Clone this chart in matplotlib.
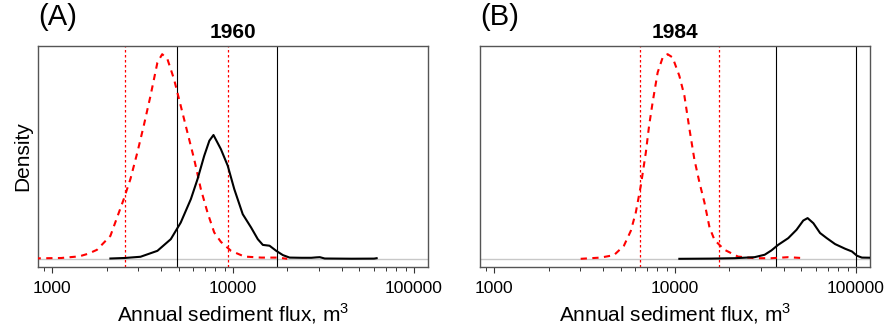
import numpy as np
import matplotlib
matplotlib.use("Agg")
import matplotlib.pyplot as plt

plt.rcParams['font.family'] = ['Liberation Sans', 'DejaVu Sans']
plt.rcParams['mathtext.fontset'] = 'custom'
plt.rcParams['mathtext.rm'] = 'Liberation Sans'

# ---- panel A (1960) ----
red_a_x = [800, 1122, 1413, 1585, 1770, 2100, 2490, 2710, 2960, 3210, 3500,
           3820, 4060, 4340, 4720, 5140, 5600, 6100, 6640, 7230, 7870, 8570,
           9750, 11560, 14320, 17700, 19950]
red_a_y = [0.002, 0.004, 0.012, 0.025, 0.044, 0.112, 0.292, 0.39, 0.52, 0.65,
           0.797, 0.959, 1.0, 0.976, 0.878, 0.748, 0.617, 0.487, 0.341, 0.226,
           0.129, 0.083, 0.039, 0.011, 0.006, 0.006, 0.0]
blk_a_x = [2100, 2510, 3080, 3820, 4530, 5140, 5850, 6370, 6930, 7400, 7800,
           8570, 9350, 10160, 11320, 12590, 13710, 14620, 15920, 17340, 18880,
           20560, 23880, 27100, 28840, 30200, 32140, 45290, 60260, 62230]
blk_a_y = [0.0015, 0.004, 0.01, 0.039, 0.096, 0.177, 0.292, 0.39, 0.503,
           0.577, 0.605, 0.536, 0.455, 0.341, 0.218, 0.153, 0.096, 0.068,
           0.064, 0.039, 0.018, 0.006, 0.005, 0.005, 0.007, 0.008, 0.0015,
           0.0005, 0.001, 0.003]
red_a_vlines = [2535, 9420]
blk_a_vlines = [4933, 17420]

# ---- panel B (1984) ----
red_b_x = [3010, 3880, 4600, 5220, 5700, 6070, 6470, 6900, 7190, 7520, 8020,
           8550, 9100, 9700, 10570, 11270, 12020, 12790, 13650, 14550, 15520,
           16520, 17420, 18790, 22280, 27540, 34120, 42270, 52240]
red_b_y = [0.0, 0.006, 0.018, 0.064, 0.137, 0.226, 0.357, 0.52, 0.65, 0.764,
           0.911, 0.984, 1.0, 0.984, 0.894, 0.797, 0.634, 0.487, 0.373, 0.275,
           0.153, 0.093, 0.072, 0.044, 0.011, 0.003, 0.003, 0.008, 0.003]
blk_b_x = [10570, 15850, 21380, 27540, 31330, 34120, 37150, 42270, 46990,
           51170, 54080, 58210, 63390, 69020, 76740, 87300, 95060, 101400,
           107900, 125900]
blk_b_y = [0.0, 0.001, 0.003, 0.008, 0.02, 0.041, 0.068, 0.101, 0.142, 0.187,
           0.199, 0.174, 0.126, 0.101, 0.072, 0.049, 0.036, 0.015, 0.006, 0.005]
red_b_vlines = [6400, 17420]
blk_b_vlines = [36060, 100400]

panels = [
    ("(A)", "1960", red_a_x, red_a_y, blk_a_x, blk_a_y, red_a_vlines, blk_a_vlines),
    ("(B)", "1984", red_b_x, red_b_y, blk_b_x, blk_b_y, red_b_vlines, blk_b_vlines),
]

fig = plt.figure(figsize=(8.86, 3.35), dpi=100)
lefts = [38 / 886, 480 / 886]

for i, (tag, year, rx, ry, bx, by, rv, bv) in enumerate(panels):
    ax = fig.add_axes([lefts[i], 68 / 335, 390 / 886, 221 / 335])
    ax.set_xscale('log')
    ax.set_xlim(10 ** 2.922, 10 ** 5.078)
    ax.set_ylim(-0.04, 1.04)

    ax.axhline(0, color='#c8c8c8', lw=1.0, zorder=1)
    for v in rv:
        ax.axvline(v, color='red', lw=0.9, ls=(0, (2, 2)), zorder=2)
    for v in bv:
        ax.axvline(v, color='black', lw=0.8, zorder=2)

    ax.plot(rx, ry, color='red', lw=1.5, ls=(0, (3, 2.6)), zorder=3)
    ax.plot(bx, by, color='black', lw=1.5, zorder=4)

    ax.set_xticks([1000, 10000, 100000])
    ax.set_xticklabels(['1000', '10000', '100000'])
    ax.tick_params(axis='x', which='major', length=4, width=0.8,
                   labelsize=12.6, pad=6, color='#333333')
    ax.tick_params(axis='x', which='minor', length=3, width=0.7,
                   color='#333333')
    ax.set_yticks([])
    for s in ax.spines.values():
        s.set_color('#555555')
        s.set_linewidth(1.0)

    ax.set_xlabel('Annual sediment flux, m$^{\\mathregular{3}}$',
                  fontsize=15, labelpad=4)
    if i == 0:
        ax.set_ylabel('Density', fontsize=15, labelpad=4)
    ax.set_title(year, fontsize=15, fontweight='bold', pad=6)
    fig.text(lefts[i], 1 - 3 / 335, tag, fontsize=21, ha='left', va='top')

fig.savefig('out.png', dpi=100)
